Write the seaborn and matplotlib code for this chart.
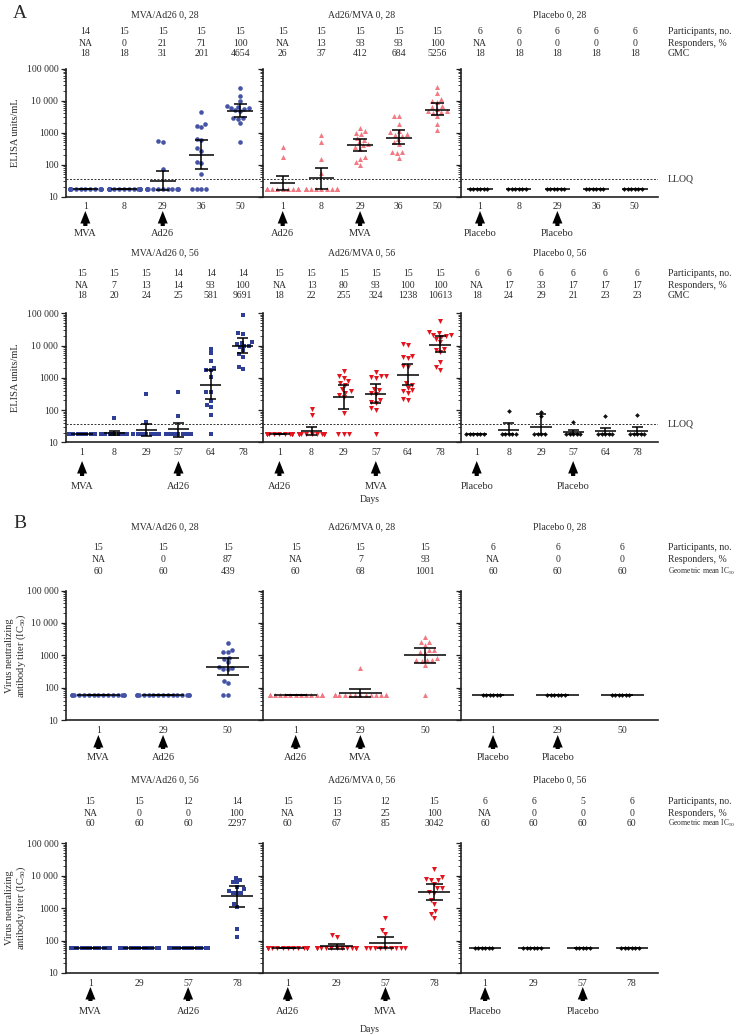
import warnings
warnings.filterwarnings("ignore")
import numpy as np
import pandas as pd
import matplotlib
matplotlib.use("Agg")
import matplotlib.pyplot as plt
import matplotlib.transforms as mtransforms
from matplotlib.ticker import FixedLocator, FixedFormatter, LogLocator, NullFormatter
import seaborn as sns

# ======================= DATA =======================
LLOQ = 36

# ---- Panel A, schedule 0, 28 (ELISA units/mL) ----
days_A28 = ["1", "8", "29", "36", "50"]
elisa28_mva_ad26 = [
    [18, 18, 18, 18, 18, 18, 18, 18, 18, 18, 18, 18, 18, 18],
    [18, 18, 18, 18, 18, 18, 18, 18, 18, 18, 18, 18, 18, 18, 18],
    [540, 520, 72, 18, 18, 18, 18, 18, 18, 18, 18, 18, 18, 18, 18],
    [4500, 1800, 1600, 1450, 630, 570, 320, 275, 120, 115, 50, 18, 18, 18, 18],
    [25000, 14000, 10000, 7000, 6500, 6000, 5800, 5500, 5000, 4800, 2900, 2800, 2700, 2000, 500],
]
elisa28_ad26_mva = [
    [350, 175, 18, 18, 18, 18, 18, 18, 18, 18, 18, 18, 18, 18, 18],
    [870, 500, 155, 53, 18, 18, 18, 18, 18, 18, 18, 18, 18, 18, 18],
    [1400, 1100, 1000, 900, 700, 600, 500, 450, 400, 350, 300, 170, 150, 120, 100],
    [3400, 3200, 1870, 1100, 1020, 910, 850, 810, 640, 500, 450, 250, 245, 230, 165],
    [26000, 17000, 11000, 9400, 8700, 6900, 6100, 5500, 4800, 4600, 4300, 4000, 3400, 1870, 1230],
]
elisa28_placebo = [
    [18, 18, 18, 18, 18, 18],
    [18, 18, 18, 18, 18, 18],
    [18, 18, 18, 18, 18, 18],
    [18, 18, 18, 18, 18, 18],
    [18, 18, 18, 18, 18, 18],
]
gmc28_mva_ad26 = [18, 18, 31, 201, 4654]
lo28_mva_ad26 = [18, 18, 16, 72, 3000]
hi28_mva_ad26 = [18, 18, 62, 600, 8000]
gmc28_ad26_mva = [26, 37, 412, 684, 5256]
lo28_ad26_mva = [16, 17, 265, 430, 3600]
hi28_ad26_mva = [45, 79, 650, 1170, 8500]
gmc28_placebo = [18, 18, 18, 18, 18]
n28_mva_ad26 = ["14", "15", "15", "15", "15"]
n28_ad26_mva = ["15", "15", "15", "15", "15"]
n28_placebo = ["6", "6", "6", "6", "6"]
resp28_mva_ad26 = ["NA", "0", "21", "71", "100"]
resp28_ad26_mva = ["NA", "13", "93", "93", "100"]
resp28_placebo = ["NA", "0", "0", "0", "0"]

# ---- Panel A, schedule 0, 56 ----
days_A56 = ["1", "8", "29", "57", "64", "78"]
elisa56_mva_ad26 = [
    [18, 18, 18, 18, 18, 18, 18, 18, 18, 18, 18, 18, 18, 18, 18],
    [55, 18, 18, 18, 18, 18, 18, 18, 18, 18, 18, 18, 18, 18, 18],
    [320, 43, 18, 18, 18, 18, 18, 18, 18, 18, 18, 18, 18, 18, 18],
    [370, 66, 18, 18, 18, 18, 18, 18, 18, 18, 18, 18, 18, 18],
    [8100, 6000, 3250, 2050, 1780, 1700, 1050, 360, 360, 195, 145, 120, 72, 18],
    [89000, 24000, 23000, 12500, 12000, 11000, 10000, 9500, 9000, 7200, 5400, 4500, 2150, 1860],
]
elisa56_ad26_mva = [
    [18, 18, 18, 18, 18, 18, 18, 18, 18, 18, 18, 18, 18, 18, 18],
    [105, 72, 18, 18, 18, 18, 18, 18, 18, 18, 18, 18, 18, 18, 18],
    [1600, 1100, 1000, 800, 700, 600, 450, 380, 350, 300, 250, 83, 18, 18, 18],
    [1500, 1150, 1100, 1050, 1000, 450, 420, 330, 320, 200, 180, 160, 112, 100, 18],
    [11500, 10500, 4800, 4300, 4000, 2400, 2200, 700, 600, 500, 420, 400, 350, 220, 210],
    [57000, 26000, 25000, 22000, 21000, 20000, 18000, 15600, 12500, 7800, 7500, 6200, 3150, 2200, 1750],
]
elisa56_placebo = [
    [18, 18, 18, 18, 18, 18],
    [93, 18, 18, 18, 18, 18],
    [89, 66, 18, 18, 18, 18],
    [43, 18, 18, 18, 18, 18],
    [66, 18, 18, 18, 18, 18],
    [69, 18, 18, 18, 18, 18],
]
gmc56_mva_ad26 = [18, 20, 24, 25, 581, 9691]
lo56_mva_ad26 = [18, 17, 16, 15, 215, 5700]
hi56_mva_ad26 = [18, 23, 36, 41, 1700, 17400]
gmc56_ad26_mva = [18, 22, 255, 324, 1238, 10613]
lo56_ad26_mva = [18, 17, 105, 170, 590, 6200]
hi56_ad26_mva = [18, 30, 600, 620, 2750, 20000]
gmc56_placebo = [18, 24, 29, 21, 23, 23]
lo56_placebo = [18, 18, 18, 18, 18, 18]
hi56_placebo = [18, 39, 74, 24, 28, 29]
n56_mva_ad26 = ["15", "15", "15", "14", "14", "14"]
n56_ad26_mva = ["15", "15", "15", "15", "15", "15"]
n56_placebo = ["6", "6", "6", "6", "6", "6"]
resp56_mva_ad26 = ["NA", "7", "13", "14", "93", "100"]
resp56_ad26_mva = ["NA", "13", "80", "93", "100", "100"]
resp56_placebo = ["NA", "17", "33", "17", "17", "17"]

# ---- Panel B, schedule 0, 28 (neutralizing titer IC50) ----
days_B28 = ["1", "29", "50"]
vna28_mva_ad26 = [
    [60, 60, 60, 60, 60, 60, 60, 60, 60, 60, 60, 60, 60, 60, 60],
    [60, 60, 60, 60, 60, 60, 60, 60, 60, 60, 60, 60, 60, 60, 60],
    [2350, 1500, 1300, 1250, 850, 750, 600, 440, 400, 380, 370, 163, 135, 60, 60],
]
vna28_ad26_mva = [
    [60, 60, 60, 60, 60, 60, 60, 60, 60, 60, 60, 60, 60, 60, 60],
    [400, 60, 60, 60, 60, 60, 60, 60, 60, 60, 60, 60, 60, 60, 60],
    [3700, 2600, 2600, 2050, 1450, 1450, 1250, 1150, 800, 700, 700, 700, 650, 500, 60],
]
vna28_placebo = [
    [60, 60, 60, 60, 60, 60],
    [60, 60, 60, 60, 60, 60],
    [60, 60, 60, 60, 60, 60],
]
gmt28_mva_ad26 = [60, 60, 439]
lob28_mva_ad26 = [60, 60, 240]
hib28_mva_ad26 = [60, 60, 800]
gmt28_ad26_mva = [60, 68, 1001]
lob28_ad26_mva = [60, 50, 590]
hib28_ad26_mva = [60, 89, 1730]
gmt28_placebo = [60, 60, 60]
nb28_mva_ad26 = ["15", "15", "15"]
nb28_ad26_mva = ["15", "15", "15"]
nb28_placebo = ["6", "6", "6"]
respb28_mva_ad26 = ["NA", "0", "87"]
respb28_ad26_mva = ["NA", "7", "93"]
respb28_placebo = ["NA", "0", "0"]

# ---- Panel B, schedule 0, 56 ----
days_B56 = ["1", "29", "57", "78"]
vna56_mva_ad26 = [
    [60, 60, 60, 60, 60, 60, 60, 60, 60, 60, 60, 60, 60, 60, 60],
    [60, 60, 60, 60, 60, 60, 60, 60, 60, 60, 60, 60, 60, 60, 60],
    [60, 60, 60, 60, 60, 60, 60, 60, 60, 60, 60, 60],
    [8300, 7400, 6200, 6200, 4450, 3800, 3500, 3000, 3000, 3000, 1320, 1070, 225, 133],
]
vna56_ad26_mva = [
    [60, 60, 60, 60, 60, 60, 60, 60, 60, 60, 60, 60, 60, 60, 60],
    [148, 132, 60, 60, 60, 60, 60, 60, 60, 60, 60, 60, 60, 60, 60],
    [490, 213, 160, 60, 60, 60, 60, 60, 60, 60, 60, 60],
    [15800, 8900, 7800, 7400, 7400, 5600, 4100, 4100, 3200, 3000, 1780, 1350, 830, 660, 490],
]
vna56_placebo = [
    [60, 60, 60, 60, 60, 60],
    [60, 60, 60, 60, 60, 60],
    [60, 60, 60, 60, 60],
    [60, 60, 60, 60, 60, 60],
]
gmt56_mva_ad26 = [60, 60, 60, 2297]
lob56_mva_ad26 = [60, 60, 60, 1120]
hib56_mva_ad26 = [60, 60, 60, 4900]
gmt56_ad26_mva = [60, 67, 85, 3042]
lob56_ad26_mva = [60, 55, 58, 1780]
hib56_ad26_mva = [60, 79, 132, 5600]
gmt56_placebo = [60, 60, 60, 60]
nb56_mva_ad26 = ["15", "15", "12", "14"]
nb56_ad26_mva = ["15", "15", "12", "15"]
nb56_placebo = ["6", "6", "5", "6"]
respb56_mva_ad26 = ["NA", "0", "0", "100"]
respb56_ad26_mva = ["NA", "13", "25", "100"]
respb56_placebo = ["NA", "0", "0", "0"]

group_titles_28 = ["MVA/Ad26 0, 28", "Ad26/MVA 0, 28", "Placebo 0, 28"]
group_titles_56 = ["MVA/Ad26 0, 56", "Ad26/MVA 0, 56", "Placebo 0, 56"]
vacc_28 = [{"1": "MVA", "29": "Ad26"}, {"1": "Ad26", "29": "MVA"}, {"1": "Placebo", "29": "Placebo"}]
vacc_56 = [{"1": "MVA", "57": "Ad26"}, {"1": "Ad26", "57": "MVA"}, {"1": "Placebo", "57": "Placebo"}]
ytick_vals = [10, 100, 1000, 10000, 100000]
ytick_text = ["10", "100", "1000", "10 000", "100 000"]

# ======================= STYLE =======================
sns.set_theme(style="ticks", context="paper")
plt.rcParams["font.family"] = ["Liberation Serif", "DejaVu Serif"]
plt.rcParams["mathtext.default"] = "regular"
TXT = "#2b2b2b"
FS = 7
BLUE_C = "#4453a6"
BLUE_S = "#2f3f97"
PINK = "#f27a83"
RED = "#e3141e"
BLK = "#111111"

W, H = 740, 1036
fig = plt.figure(figsize=(W / 100, H / 100), dpi=100)
fig.patch.set_facecolor("white")


def fy(py):
    return 1 - py / H


def fx(px):
    return px / W


AX_L, AX_R = 66, 658
PW = (AX_R - AX_L) / 3

rows = [
    dict(days=days_A28, top=68.5, bottom=196.7, xr=4.6, titles=group_titles_28, vacc=vacc_28,
         title_y=15, tab_y=(32, 43, 54), arrow=(211, 226), vacc_y=234,
         tab_labels=["Participants, no.", "Responders, %", "GMC"], lloq=True,
         groups=[
             (elisa28_mva_ad26, gmc28_mva_ad26, lo28_mva_ad26, hi28_mva_ad26, n28_mva_ad26, resp28_mva_ad26, BLUE_C, "o", 3.3),
             (elisa28_ad26_mva, gmc28_ad26_mva, lo28_ad26_mva, hi28_ad26_mva, n28_ad26_mva, resp28_ad26_mva, PINK, "^", 3.6),
             (elisa28_placebo, gmc28_placebo, gmc28_placebo, gmc28_placebo, n28_placebo, resp28_placebo, BLK, "D", 2.4),
         ], ylabel=["ELISA units/mL"], days_y=None),
    dict(days=days_A56, top=313.3, bottom=442.3, xr=5.64, titles=group_titles_56, vacc=vacc_56,
         title_y=253, tab_y=(274, 285, 296), arrow=(461, 476), vacc_y=486,
         tab_labels=["Participants, no.", "Responders, %", "GMC"], lloq=True,
         groups=[
             (elisa56_mva_ad26, gmc56_mva_ad26, lo56_mva_ad26, hi56_mva_ad26, n56_mva_ad26, resp56_mva_ad26, BLUE_S, "s", 3.0),
             (elisa56_ad26_mva, gmc56_ad26_mva, lo56_ad26_mva, hi56_ad26_mva, n56_ad26_mva, resp56_ad26_mva, RED, "v", 3.6),
             (elisa56_placebo, gmc56_placebo, lo56_placebo, hi56_placebo, n56_placebo, resp56_placebo, BLK, "D", 2.4),
         ], ylabel=["ELISA units/mL"], days_y=499),
    dict(days=days_B28, top=590.5, bottom=720, xr=2.55, titles=group_titles_28, vacc=vacc_28,
         title_y=527, tab_y=(548, 559.5, 571), arrow=(735, 749), vacc_y=758,
         tab_labels=["Participants, no.", "Responders, %", "Geometric mean IC$_{50}$"], lloq=False,
         groups=[
             (vna28_mva_ad26, gmt28_mva_ad26, lob28_mva_ad26, hib28_mva_ad26, nb28_mva_ad26, respb28_mva_ad26, BLUE_C, "o", 3.3),
             (vna28_ad26_mva, gmt28_ad26_mva, lob28_ad26_mva, hib28_ad26_mva, nb28_ad26_mva, respb28_ad26_mva, PINK, "^", 3.6),
             (vna28_placebo, gmt28_placebo, gmt28_placebo, gmt28_placebo, nb28_placebo, respb28_placebo, BLK, "D", 2.4),
         ], ylabel=["Virus neutralizing", "antibody titer (IC$_{50}$)"], days_y=None),
    dict(days=days_B56, top=843.3, bottom=973, xr=3.54, titles=group_titles_56, vacc=vacc_56,
         title_y=780, tab_y=(802, 813, 823.5), arrow=(987, 1001), vacc_y=1011,
         tab_labels=["Participants, no.", "Responders, %", "Geometric mean IC$_{50}$"], lloq=False,
         groups=[
             (vna56_mva_ad26, gmt56_mva_ad26, lob56_mva_ad26, hib56_mva_ad26, nb56_mva_ad26, respb56_mva_ad26, BLUE_S, "s", 3.0),
             (vna56_ad26_mva, gmt56_ad26_mva, lob56_ad26_mva, hib56_ad26_mva, nb56_ad26_mva, respb56_ad26_mva, RED, "v", 3.6),
             (vna56_placebo, gmt56_placebo, gmt56_placebo, gmt56_placebo, nb56_placebo, respb56_placebo, BLK, "D", 2.4),
         ], ylabel=["Virus neutralizing", "antibody titer (IC$_{50}$)"], days_y=1030),
]

for row in rows:
    days = row["days"]
    n = len(days)
    xs = np.arange(n)
    for gi, (vals, gm, lo, hi, npart, resp, col, mk, sz) in enumerate(row["groups"]):
        left = AX_L + gi * PW
        ax = fig.add_axes([fx(left), fy(row["bottom"]), fx(PW), (row["bottom"] - row["top"]) / H])
        ax.set_facecolor("none")
        ax.set_yscale("log")
        ax.set_ylim(10, 100000)
        df = pd.DataFrame({
            "day": [d for d, v in zip(days, vals) for _ in v],
            "value": [x for v in vals for x in v],
        })
        sns.swarmplot(data=df, x="day", y="value", order=days, ax=ax, color=col,
                      marker=mk, size=sz, linewidth=0, zorder=2, warn_thresh=1.0)
        ax.set_yscale("log")
        ax.set_ylim(10, 100000)
        ax.set_xlim(-0.5, row["xr"])
        gm_a = np.array(gm, float)
        lo_a = np.array(lo, float)
        hi_a = np.array(hi, float)
        ax.hlines(gm_a, xs - 0.33, xs + 0.33, color="black", lw=1.1, zorder=4)
        ax.vlines(xs, lo_a, hi_a, color="black", lw=1.1, zorder=4)
        ax.hlines(hi_a, xs - 0.17, xs + 0.17, color="black", lw=1.1, zorder=4)
        ax.hlines(lo_a, xs - 0.17, xs + 0.17, color="black", lw=1.1, zorder=4)
        if row["lloq"]:
            ax.axhline(LLOQ, color="#333333", lw=0.7, ls=(0, (2, 1.6)), zorder=1)
        # axes cosmetics
        for s in ["top", "right"]:
            ax.spines[s].set_visible(False)
        for s in ["left", "bottom"]:
            ax.spines[s].set_linewidth(1.2)
            ax.spines[s].set_color("#222222")
        ax.yaxis.set_major_locator(FixedLocator(ytick_vals))
        ax.yaxis.set_minor_locator(LogLocator(base=10, subs=np.arange(2, 10)))
        ax.yaxis.set_minor_formatter(NullFormatter())
        if gi == 0:
            ax.yaxis.set_major_formatter(FixedFormatter(ytick_text))
        else:
            ax.yaxis.set_major_formatter(NullFormatter())
        ax.tick_params(axis="y", which="major", length=3.5, width=0.9, labelsize=FS, colors="#222222", labelcolor=TXT, pad=2)
        ax.tick_params(axis="y", which="minor", length=2, width=0.6, colors="#222222")
        ax.set_xticks(xs)
        ax.set_xticklabels(days)
        ax.tick_params(axis="x", length=0, labelsize=FS, labelcolor=TXT, pad=4)
        ax.set_xlabel("")
        ax.set_ylabel("")
        ax.grid(False)

        tr = mtransforms.blended_transform_factory(ax.transData, fig.transFigure)
        tra = mtransforms.blended_transform_factory(ax.transAxes, fig.transFigure)
        ax.text(0.5, fy(row["title_y"]), row["titles"][gi], transform=tra, ha="center", va="center",
                fontsize=FS, color=TXT)
        gm_txt = [str(g) for g in gm]
        for i in range(n):
            for yy, txt in zip(row["tab_y"], [npart[i], resp[i], gm_txt[i]]):
                ax.text(xs[i], fy(yy), txt, transform=tr, ha="center", va="center", fontsize=FS, color=TXT)
        for dlab, vname in row["vacc"][gi].items():
            i = days.index(dlab)
            ax.annotate("", xy=(xs[i], fy(row["arrow"][0])), xytext=(xs[i], fy(row["arrow"][1])),
                        xycoords=tr, textcoords=tr, annotation_clip=False,
                        arrowprops=dict(arrowstyle="simple,head_length=0.75,head_width=0.6,tail_width=0.25",
                                        color="black", shrinkA=0, shrinkB=0, mutation_scale=12, lw=0))
            ax.text(xs[i], fy(row["vacc_y"]), vname, transform=tr, ha="center", va="center",
                    fontsize=FS + 0.5, color=TXT)
        if gi == 0:
            ycen = fy((row["top"] + row["bottom"]) / 2)
            if len(row["ylabel"]) == 1:
                fig.text(fx(15), ycen, row["ylabel"][0], rotation=90, ha="center", va="center",
                         fontsize=FS + 0.5, color=TXT)
            else:
                fig.text(fx(10), ycen, row["ylabel"][0], rotation=90, ha="center", va="center",
                         fontsize=FS + 0.5, color=TXT)
                fig.text(fx(21), ycen, row["ylabel"][1], rotation=90, ha="center", va="center",
                         fontsize=FS + 0.5, color=TXT)
        if gi == 2 and row["lloq"]:
            fig.text(fx(668), fy(row["bottom"] - (np.log10(LLOQ) - 1) / 4 * (row["bottom"] - row["top"])),
                     "LLOQ", ha="left", va="center", fontsize=FS, color=TXT)

    for yy, lab in zip(row["tab_y"], row["tab_labels"]):
        fs_lab = FS if len(lab) < 20 else 5.5
        fig.text(fx(668), fy(yy), lab, ha="left", va="center", fontsize=fs_lab, color=TXT)
    if row["days_y"] is not None:
        fig.text(fx(370), fy(row["days_y"]), "Days", ha="center", va="center", fontsize=FS, color=TXT)

fig.text(fx(13), fy(14), "A", ha="left", va="center", fontsize=14, color=TXT)
fig.text(fx(13), fy(524), "B", ha="left", va="center", fontsize=14, color=TXT)

fig.savefig("out.png", dpi=100, facecolor="white")
